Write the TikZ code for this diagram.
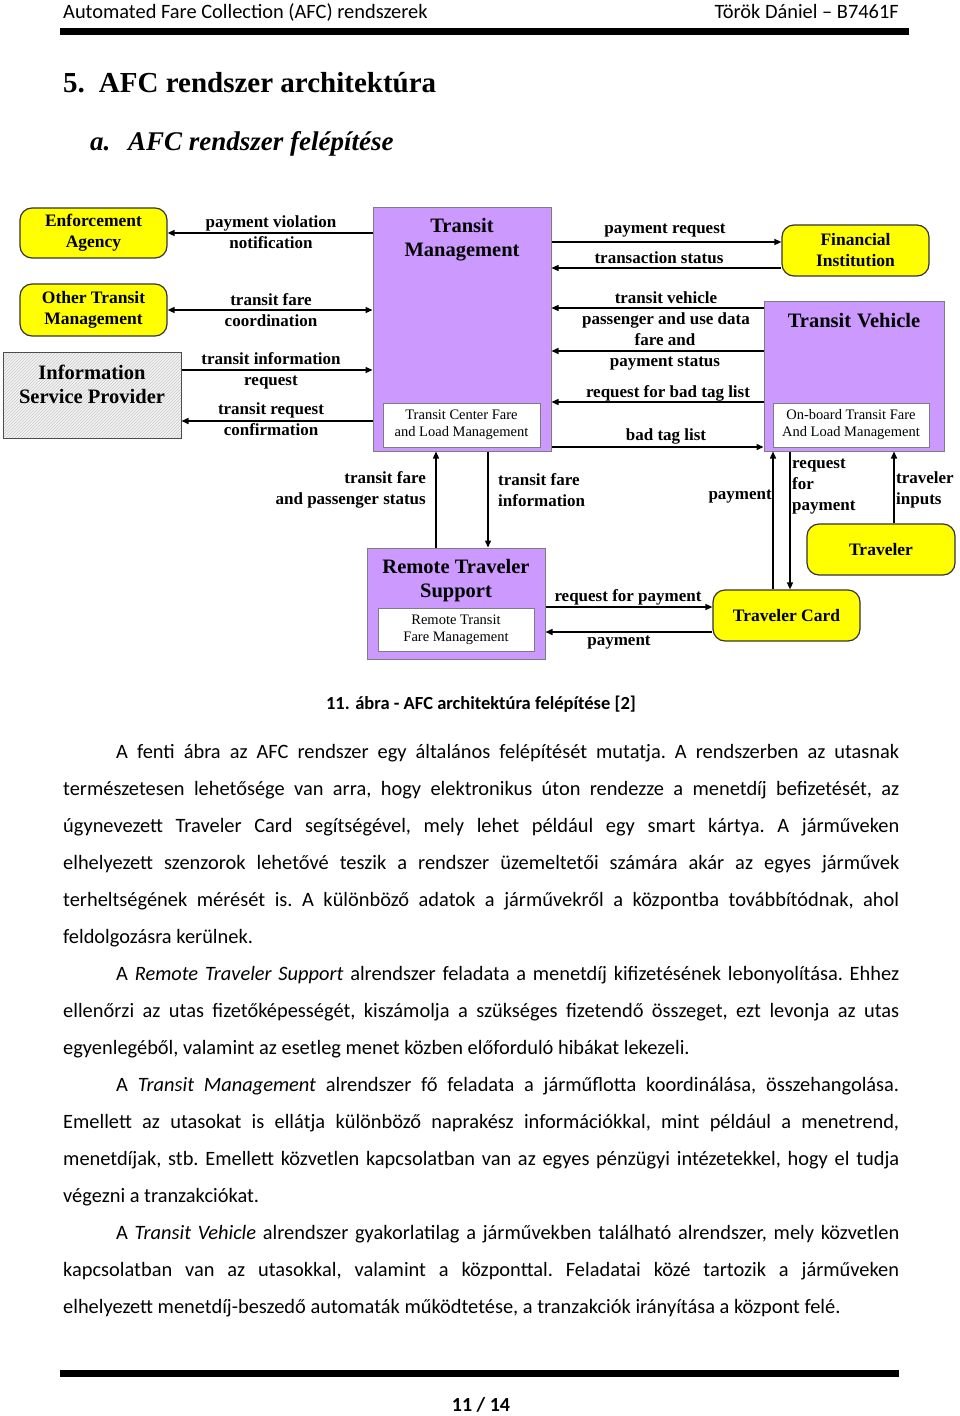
\documentclass[tikz,border=0pt]{standalone}
\usepackage{fontspec}
\setmainfont{Carlito}
\newfontfamily\diafont{Liberation Serif}
\newfontfamily\headfont{Liberation Serif}
\usepackage{tikz}
\usetikzlibrary{arrows.meta,positioning,patterns}
\definecolor{tmPurple}{RGB}{204,153,255}
\definecolor{extYellow}{RGB}{255,255,0}
\definecolor{boxEdge}{RGB}{125,125,125}

\begin{document}
\begin{tikzpicture}[x=1pt,y=-1pt,
    purplebox/.style={draw=boxEdge, fill=tmPurple, line width=1pt, inner sep=0pt},
    yellowbox/.style={draw=black!80, fill=extYellow, rounded corners=12pt, line width=1.2pt,
      inner sep=0pt, align=center, font=\diafont\bfseries\fontsize{17.5}{21}\selectfont},
    innerbox/.style={draw=boxEdge, fill=white, line width=0.8pt, inner sep=0pt, align=center,
      font=\diafont\fontsize{14.5}{17}\selectfont},
    boxtitle/.style={inner sep=0pt, align=center, font=\diafont\bfseries\fontsize{20.5}{24}\selectfont},
    flowlabel/.style={inner sep=0pt, align=center, font=\diafont\bfseries\fontsize{17}{21}\selectfont},
    flow/.style={-{Triangle[length=7pt,width=6pt]}, line width=1.4pt},
    bothflow/.style={{Triangle[length=7pt,width=6pt]}-{Triangle[length=7pt,width=6pt]}, line width=1.4pt},
    pagetext/.style={inner sep=0pt, font=\fontsize{20.4}{37}\selectfont}]
  \fill[white] (0,0) rectangle (960,1416);
  \useasboundingbox (0,0) rectangle (960,1416);
  % Page head
  \node[pagetext, anchor=base west] (headleft) at (63,18) {Automated Fare Collection (AFC) rendszerek};
  \node[pagetext, anchor=base east] (headright) at (899,18) {Török Dániel – B7461F};
  \fill (60,28) rectangle (909,35);
  \node[anchor=base west, inner sep=0pt, font=\headfont\bfseries\fontsize{29}{34}\selectfont]
    (title) at (63,92) {5.\hspace{14pt}AFC rendszer architektúra};
  \node[anchor=base west, inner sep=0pt, font=\headfont\bfseries\itshape\fontsize{27}{32}\selectfont]
    (subnum) at (90,150) {a.};
  \node[anchor=base west, inner sep=0pt, font=\headfont\bfseries\itshape\fontsize{27}{32}\selectfont]
    (subtitle) at (128,150) {AFC rendszer felépítése};
  % Boxes
  \node[purplebox, minimum width=178, minimum height=244] (tm) at (462,329) {};
  \node[boxtitle] (tmtitle) at (462,240) {Transit\\Management};
  \node[innerbox, minimum width=157, minimum height=44] (tmfare) at (461.5,425) {Transit Center Fare\\and Load Management};
  \node[purplebox, minimum width=180, minimum height=150] (tv) at (854,376) {};
  \node[boxtitle] (tvtitle) at (854,321) {Transit\hspace{6pt}Vehicle};
  \node[innerbox, minimum width=156, minimum height=44] (tvfare) at (851,425) {On-board Transit Fare\\And Load Management};
  \node[purplebox, minimum width=178, minimum height=111] (rts) at (456,603.5) {};
  \node[boxtitle] (rtstitle) at (456,581) {Remote Traveler\\Support};
  \node[innerbox, minimum width=156, minimum height=43] (rtsfare) at (456,629.5) {Remote Transit\\Fare Management};
  \node[yellowbox, minimum width=147, minimum height=50] (ea) at (93.5,233) {Enforcement\\Agency};
  \node[yellowbox, minimum width=147, minimum height=52] (otm) at (93.5,310) {Other Transit\\Management};
  \node[yellowbox, minimum width=147, minimum height=51] (fi) at (855.5,250.5) {Financial\\Institution};
  \node[yellowbox, minimum width=147, minimum height=51] (tc) at (786.5,615.5) {Traveler Card};
  \node[yellowbox, minimum width=148, minimum height=51] (trav) at (881,549.5) {Traveler};
  \node[draw=black!70, line width=1pt, preaction={fill=gray!8}, pattern=north east lines, pattern color=gray!45,
    minimum width=178, minimum height=86] (isp) at (92,395) {};
  \node[boxtitle] (isptext) at (92,384) {Information\\Service Provider};
  % Arrows
  \draw[flow] (tm.west |- 0,233) -- (ea.east |- 0,233);
  \draw[bothflow] (otm.east |- 0,310) -- (tm.west |- 0,310);
  \draw[flow] (isp.east |- 0,370) -- (tm.west |- 0,370);
  \draw[flow] (tm.west |- 0,421) -- (isp.east |- 0,421);
  \draw[flow] (tm.east |- 0,242) -- (fi.west |- 0,242);
  \draw[flow] (fi.west |- 0,268) -- (tm.east |- 0,268);
  \draw[flow] (tv.west |- 0,308) -- (tm.east |- 0,308);
  \draw[flow] (tv.west |- 0,351) -- (tm.east |- 0,351);
  \draw[flow] (tv.west |- 0,402) -- (tm.east |- 0,402);
  \draw[flow] (tm.east |- 0,447) -- (tv.west |- 0,447);
  \draw[flow] (rts.north -| 436,0) -- (tm.south -| 436,0);
  \draw[flow] (tm.south -| 488,0) -- (rts.north -| 488,0);
  \draw[flow] (tc.north -| 773,0) -- (tv.south -| 773,0);
  \draw[flow] (tv.south -| 790,0) -- (tc.north -| 790,0);
  \draw[flow] (trav.north -| 894,0) -- (tv.south -| 894,0);
  \draw[flow] (rts.east |- 0,607) -- (tc.west |- 0,607);
  \draw[flow] (tc.west |- 0,632) -- (rts.east |- 0,632);
  % Labels
  \node[flowlabel] (violation) at (271,232.5) {payment violation\\notification};
  \node[flowlabel] (coord) at (271,310.5) {transit fare\\coordination};
  \node[flowlabel] (inforeq) at (271,371) {transit information\\request};
  \node[flowlabel] (confirm) at (271,419.5) {transit request\\confirmation};
  \node[flowlabel] (payreq) at (665,231) {payment request};
  \node[flowlabel] (trstatus) at (659,258) {transaction status};
  \node[flowlabel] (usedata) at (666,309.5) {transit vehicle\\passenger and use data};
  \node[flowlabel] (paystatus) at (665,351.5) {fare and\\payment status};
  \node[flowlabel] (badreq) at (668,393) {request for bad tag list};
  \node[flowlabel] (badlist) at (666,436) {bad tag list};
  \node[flowlabel, align=right, anchor=east] (rtsup) at (426,490) {transit fare\\and passenger status};
  \node[flowlabel, align=left, anchor=west] (rtsdown) at (498,490) {transit fare\\information};
  \node[flowlabel, anchor=east] (cardpay) at (772,497) {payment};
  \node[flowlabel, align=left, anchor=west] (cardreq) at (792,486.5) {request\\for\\payment};
  \node[flowlabel, align=left, anchor=west] (inputs) at (896,490) {traveler\\inputs};
  \node[flowlabel] (rtsreq) at (628,597) {request for payment};
  \node[flowlabel] (rtspay) at (619,643) {payment};
  % Caption and text
  \node[anchor=base, inner sep=0pt, font=\bfseries\fontsize{18.5}{22}\selectfont] (caption) at (481,709)
    {11. ábra - AFC architektúra felépítése [2]};
  \node[pagetext, anchor=base west, text width=836pt, align=justify] (body) at (63,758) {%
    \frenchspacing\tolerance=10000\hyphenpenalty=10000\emergencystretch=20pt
    \hspace*{53pt}A fenti ábra az AFC rendszer egy általános felépítését mutatja. A rendszerben az utasnak\linebreak
    természetesen lehetősége van arra, hogy elektronikus úton rendezze a menetdíj befizetését, az\linebreak
    úgynevezett Traveler Card segítségével, mely lehet például egy smart kártya. A járműveken\linebreak
    elhelyezett szenzorok lehetővé teszik a rendszer üzemeltetői számára akár az egyes járművek\linebreak
    terheltségének mérését is. A különböző adatok a járművekről a központba továbbítódnak, ahol\linebreak
    feldolgozásra kerülnek.\par
    \hspace*{53pt}A \textit{Remote Traveler Support} alrendszer feladata a menetdíj kifizetésének lebonyolítása. Ehhez\linebreak
    ellenőrzi az utas fizetőképességét, kiszámolja a szükséges fizetendő összeget, ezt levonja az utas\linebreak
    egyenlegéből, valamint az esetleg menet közben előforduló hibákat lekezeli.\par
    \hspace*{53pt}A \textit{Transit Management} alrendszer fő feladata a járműflotta koordinálása, összehangolása.\linebreak
    Emellett az utasokat is ellátja különböző naprakész információkkal, mint például a menetrend,\linebreak
    menetdíjak, stb. Emellett közvetlen kapcsolatban van az egyes pénzügyi intézetekkel, hogy el tudja\linebreak
    végezni a tranzakciókat.\par
    \hspace*{53pt}A \textit{Transit Vehicle} alrendszer gyakorlatilag a járművekben található alrendszer, mely közvetlen\linebreak
    kapcsolatban van az utasokkal, valamint a központtal. Feladatai közé tartozik a járműveken\linebreak
    elhelyezett menetdíj-beszedő automaták működtetése, a tranzakciók irányítása a központ felé.\par};
  % Page foot
  \fill (60,1370) rectangle (899,1377);
  \node[anchor=base, inner sep=0pt, font=\bfseries\fontsize{20}{24}\selectfont] (pagenum) at (481,1411) {11 / 14};
\end{tikzpicture}
\end{document}
